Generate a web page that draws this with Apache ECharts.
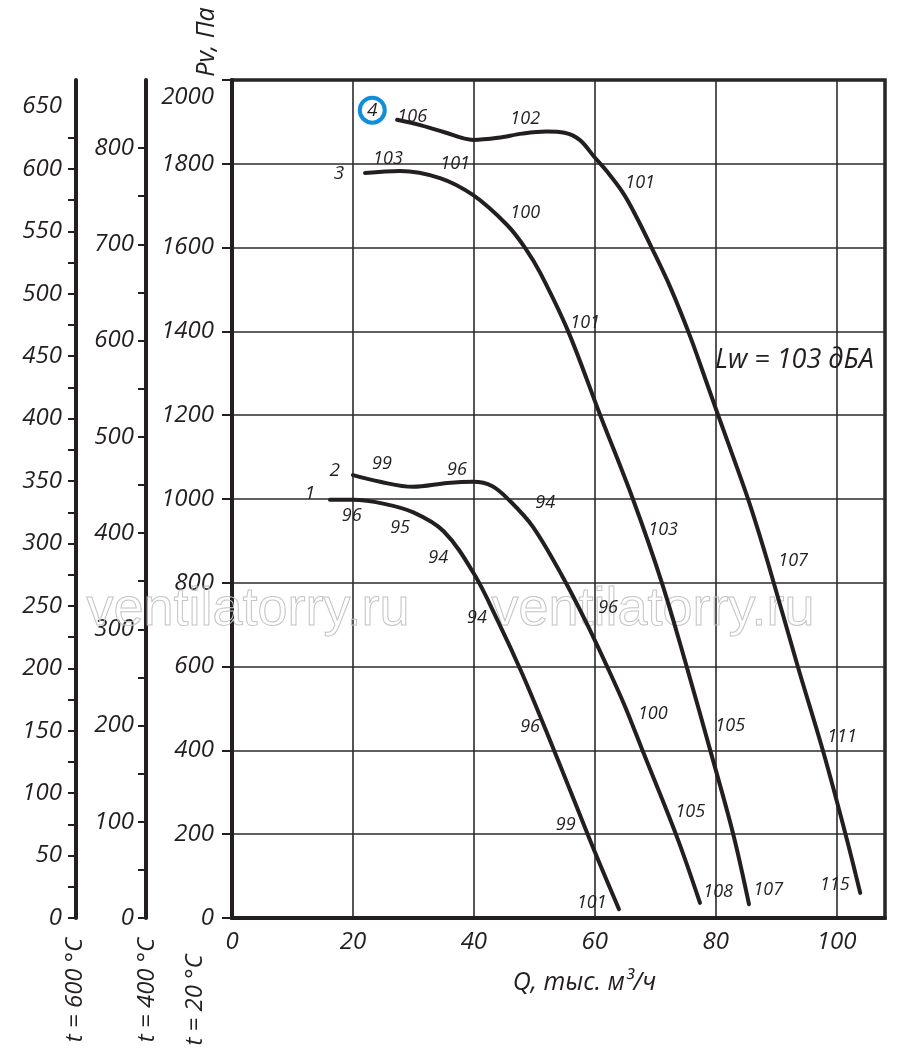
<!DOCTYPE html>
<html>
<head>
<meta charset="utf-8">
<script src="https://cdn.jsdelivr.net/npm/echarts@6/dist/echarts.min.js"></script>
<style>
    html, body { margin: 0; padding: 0; background: #fff; }
    #chart { width: 900px; height: 1060px; }
</style>
</head>
<body>
<div id="chart"></div>
<script>
// Q, тыс. м3/ч  /  Pv, Па  (t = 20 °C)
var q1 = [16.2, 20, 25, 30, 35, 40, 44, 48, 52, 56, 60, 64];
var p1 = [998, 998, 989, 968, 923, 822, 708, 583, 445, 302, 158, 21];

var q2 = [20, 24.5, 29.9, 35.6, 39.9, 43, 46, 49.8, 54.7, 58.5, 62.3, 65, 68, 73.6, 77.4];
var p2 = [1057, 1041, 1029, 1038, 1041, 1031, 995, 933, 814, 708, 592, 505, 396, 193, 36];

var q3 = [22, 27.8, 34.4, 39.9, 45.5, 48.5, 51, 55.6, 60.9, 66.3, 71.1, 75.2, 79.1, 82.9, 85.5];
var p3 = [1778, 1783, 1766, 1725, 1654, 1599, 1539, 1400, 1200, 1000, 800, 600, 400, 200, 33];

var q4 = [27.3, 31, 35, 39.9, 44, 48, 52, 55, 57.5, 60, 62, 64.7, 67, 69.4, 72.5, 75.8, 78.2, 80.6, 83.2, 85.7, 88.7, 93.6, 97.8, 101.6, 103.9];
var p4 = [1905, 1893, 1876, 1857, 1862, 1872, 1877, 1874, 1857, 1815, 1782, 1730, 1670, 1600, 1505, 1387, 1290, 1192, 1088, 985, 845, 599, 396, 193, 60];

// noise level labels along the curves: [Q, Pv, text]
var noise1 = [[19.8, 959, '96'], [27.8, 931, '95'], [34.1, 859, '94'], [40.5, 716, '94'],
              [49.3, 456, '96'], [55.2, 222, '99'], [59.5, 36, '101']];
var noise2 = [[24.8, 1084, '99'], [37.2, 1069, '96'], [51.8, 990, '94'], [62.2, 740, '96'],
              [69.6, 487, '100'], [75.8, 253, '105'], [80.4, 62, '108']];
var noise3 = [[25.8, 1811, '103'], [36.9, 1800, '101'], [48.5, 1683, '100'], [58.4, 1420, '101'],
              [71.3, 926, '103'], [82.4, 458, '105'], [88.7, 67, '107']];
var noise4 = [[29.8, 1912, '106'], [48.5, 1907, '102'], [67.5, 1754, '101'], [92.8, 852, '107'],
              [100.9, 432, '111'], [99.7, 79, '115']];

// curve numbers
var curveNums = [[12.9, 1012, '1'], [17.0, 1067, '2'], [17.7, 1776, '3']];
var curveNum4 = [[23.2, 1928, '4']];

// extra pressure scales for hot air
var t400Max = 2000 * 293 / 673;
var t600Max = 2000 * 293 / 873;
var t400Labels = [0, 100, 200, 300, 400, 500, 600, 700, 800];
var t400Ticks = [0, 50, 100, 150, 200, 250, 300, 350, 400, 450, 500, 550, 600, 650, 700, 750, 800];
var t600Labels = [0, 50, 100, 150, 200, 250, 300, 350, 400, 450, 500, 550, 600, 650];
var t600Ticks = [0, 25, 50, 75, 100, 125, 150, 175, 200, 225, 250, 275, 300, 325, 350, 375,
                 400, 425, 450, 475, 500, 525, 550, 575, 600, 625];

var FONT = "'Open Sans', 'DejaVu Sans', sans-serif";
var INK = '#231f20';

function zip(qs, ps) {
    var out = [];
    for (var i = 0; i < qs.length; i++)
        out.push([qs[i], ps[i]]);
    return out;
}

function curveSeries(qs, ps) {
    return {
        type: 'line',
        data: zip(qs, ps),
        smooth: 0.35,
        showSymbol: false,
        symbol: 'none',
        lineStyle: { color: INK, width: 4, cap: 'round' },
        z: 5
    };
}

function labelSeries(items, size) {
    return {
        type: 'scatter',
        data: items,
        symbolSize: 1,
        itemStyle: { color: 'rgba(0,0,0,0)', opacity: 1 },
        label: {
            show: true,
            position: 'inside',
            formatter: function(p) { return p.data[2]; },
            color: INK,
            fontFamily: FONT,
            fontStyle: 'italic',
            fontSize: size
        },
        z: 6
    };
}

var labelStyle = {
    color: INK,
    fontFamily: FONT,
    fontStyle: 'italic',
    fontSize: 24
};

var myChart = echarts.init(document.getElementById('chart'));

var option = {
    animation: false,
    backgroundColor: '#fff',
    grid: {
        left: 232, top: 80, right: 15, bottom: 142,
        show: true, borderColor: INK, borderWidth: 3.5, backgroundColor: 'transparent'
    },
    xAxis: {
        type: 'value',
        min: 0, max: 108, interval: 20,
        axisLine: { show: true, lineStyle: { color: INK, width: 4 } },
        axisTick: { show: false },
        splitLine: { show: true, lineStyle: { color: '#2b2b2b', width: 1.6 } },
        axisLabel: Object.assign({
            margin: 12,
            formatter: function(v) { return v % 20 === 0 ? String(v) : ''; }
        }, labelStyle),
        name: 'Q, тыс. м³/ч',
        nameLocation: 'middle',
        nameGap: 52,
        nameTextStyle: {
            color: INK, fontFamily: FONT, fontStyle: 'italic', fontSize: 25,
            padding: [0, 0, 0, 52]
        }
    },
    yAxis: [{
        type: 'value',
        min: 0, max: 2000, interval: 200,
        position: 'left',
        axisLine: { show: true, lineStyle: { color: INK, width: 4 } },
        axisTick: { show: true, length: 10, lineStyle: { color: INK, width: 2 } },
        splitLine: { show: true, lineStyle: { color: '#2b2b2b', width: 1.6 } },
        axisLabel: Object.assign({
            margin: 18,
            formatter: function(v) { return v === 2000 ? '{top|2000}' : String(v); },
            rich: { top: { color: INK, fontFamily: FONT, fontStyle: 'italic', fontSize: 24, padding: [34, 0, 0, 0] } }
        }, labelStyle)
    }, {
        type: 'value',
        min: 0, max: t400Max, interval: 50,
        position: 'left',
        offset: 86,
        axisLine: { show: true, lineStyle: { color: INK, width: 4 } },
        axisTick: { show: true, length: 8, customValues: t400Ticks, lineStyle: { color: INK, width: 2 } },
        splitLine: { show: false },
        axisLabel: Object.assign({
            margin: 12,
            customValues: t400Labels,
            formatter: function(v) { return t400Labels.indexOf(v) >= 0 ? String(v) : ''; }
        }, labelStyle)
    }, {
        type: 'value',
        min: 0, max: t600Max, interval: 25,
        position: 'left',
        offset: 156,
        axisLine: { show: true, lineStyle: { color: INK, width: 4 } },
        axisTick: { show: true, length: 8, customValues: t600Ticks, lineStyle: { color: INK, width: 2 } },
        splitLine: { show: false },
        axisLabel: Object.assign({
            margin: 14,
            customValues: t600Labels,
            formatter: function(v) { return t600Labels.indexOf(v) >= 0 ? String(v) : ''; }
        }, labelStyle)
    }],
    series: [
        curveSeries(q1, p1),
        curveSeries(q2, p2),
        curveSeries(q3, p3),
        curveSeries(q4, p4),
        labelSeries(noise1, 18),
        labelSeries(noise2, 18),
        labelSeries(noise3, 18),
        labelSeries(noise4, 18),
        labelSeries(curveNums, 19),
        {
            type: 'scatter',
            data: curveNum4,
            symbol: 'circle',
            symbolSize: 25,
            itemStyle: { color: '#fff', borderColor: '#0f8fdb', borderWidth: 4, opacity: 1 },
            label: {
                show: true,
                position: 'inside',
                formatter: function(p) { return p.data[2]; },
                color: INK, fontFamily: FONT, fontStyle: 'italic', fontSize: 19
            },
            z: 6
        }
    ],
    graphic: [
        // watermark
        {
            type: 'text', x: 248, y: 610, z: 1, silent: true,
            style: {
                text: 'ventilatorry.ru', font: "54px 'Liberation Sans', Arial, sans-serif",
                fill: 'rgba(0,0,0,0)', stroke: '#c4c4c4', lineWidth: 1,
                align: 'center', verticalAlign: 'middle', textAlign: 'center', textVerticalAlign: 'middle'
            }
        },
        {
            type: 'text', x: 653, y: 610, z: 1, silent: true,
            style: {
                text: 'ventilatorry.ru', font: "54px 'Liberation Sans', Arial, sans-serif",
                fill: 'rgba(0,0,0,0)', stroke: '#c4c4c4', lineWidth: 1,
                align: 'center', verticalAlign: 'middle', textAlign: 'center', textVerticalAlign: 'middle'
            }
        },
        {
            type: 'text', x: 715, y: 360, z: 10,
            style: {
                text: 'Lw = 103 дБА', font: "italic 27px " + FONT, fill: INK,
                align: 'left', verticalAlign: 'middle', textAlign: 'left', textVerticalAlign: 'middle'
            }
        },
        {
            type: 'text', x: 207, y: 42, rotation: Math.PI / 2, z: 10,
            style: {
                text: 'Pv, Па', font: "italic 25px " + FONT, fill: INK,
                align: 'center', verticalAlign: 'middle', textAlign: 'center', textVerticalAlign: 'middle'
            }
        },
        {
            type: 'text', x: 75, y: 990, rotation: Math.PI / 2, z: 10,
            style: {
                text: 't = 600 °C', font: "italic 24px " + FONT, fill: INK,
                align: 'center', verticalAlign: 'middle', textAlign: 'center', textVerticalAlign: 'middle'
            }
        },
        {
            type: 'text', x: 147, y: 990, rotation: Math.PI / 2, z: 10,
            style: {
                text: 't = 400 °C', font: "italic 24px " + FONT, fill: INK,
                align: 'center', verticalAlign: 'middle', textAlign: 'center', textVerticalAlign: 'middle'
            }
        },
        {
            type: 'text', x: 195, y: 1000, rotation: Math.PI / 2, z: 10,
            style: {
                text: 't = 20 °C', font: "italic 24px " + FONT, fill: INK,
                align: 'center', verticalAlign: 'middle', textAlign: 'center', textVerticalAlign: 'middle'
            }
        }
    ]
};

myChart.setOption(option);
</script>
</body>
</html>
